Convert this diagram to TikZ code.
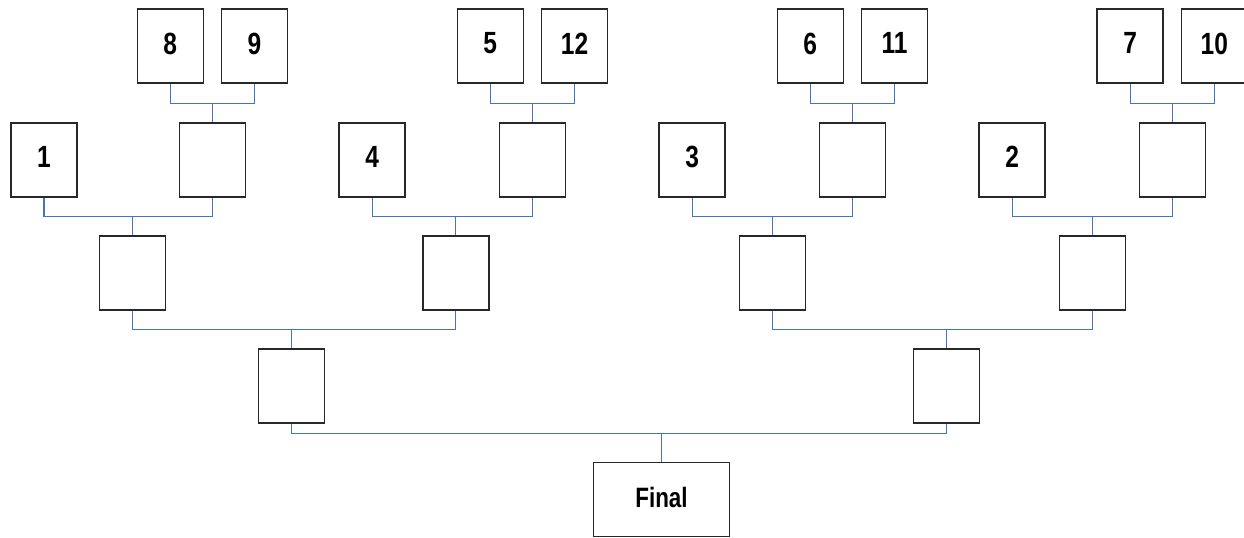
\documentclass[tikz,border=0pt]{standalone}
\usepackage{fontspec}
\newfontfamily\bracketfont{Liberation Sans}[FakeStretch=0.8]
\definecolor{linkblue}{RGB}{68,114,196}
\definecolor{boxgray}{RGB}{40,40,40}
\tikzset{every picture/.style={line width=0.75pt}}
\tikzset{
  slot/.style={draw=boxgray, line width=1.2pt, fill=white, minimum width=49.5pt, minimum height=55.5pt,
    inner sep=0pt, text depth=4.5pt, font=\bracketfont\bfseries\fontsize{23}{23}\selectfont},
  finalslot/.style={slot, minimum width=102pt, text depth=3pt, font=\bracketfont\bfseries\fontsize{21}{21}\selectfont},
  link/.style={draw=linkblue, line width=0.9pt}
}

\begin{document}
\begin{tikzpicture}[x=0.75pt,y=0.75pt,yscale=-1,xscale=1]
\useasboundingbox (0,0) rectangle (1244,538);

%Top row (seeds 5 to 12)
\node [slot] (s8) at (170.3,46.3) {8};
\node [slot] (s9) at (254.5,46.3) {9};
\node [slot] (s5) at (490.3,46.3) {5};
\node [slot] (s12) at (574.5,46.3) {12};
\node [slot] (s6) at (810.3,46.3) {6};
\node [slot] (s11) at (894.5,46.3) {11};
\node [slot] (s7) at (1130.2,46.3) {7};
\node [slot] (s10) at (1214.3,46.3) {10};

%Second row
\node [slot] (s1) at (43.9,159.8) {1};
\node [slot] (w89) at (212.5,159.8) {};
\node [slot] (s4) at (372.2,159.8) {4};
\node [slot] (w512) at (532.5,159.8) {};
\node [slot] (s3) at (692.2,159.8) {3};
\node [slot] (w611) at (852.5,159.8) {};
\node [slot] (s2) at (1012.2,159.8) {2};
\node [slot] (w710) at (1172.5,159.8) {};

%Quarter finals
\node [slot] (q1) at (132.5,273.2) {};
\node [slot] (q4) at (455.7,273.2) {};
\node [slot] (q3) at (772.5,273.2) {};
\node [slot] (q2) at (1092.5,273.2) {};

%Semi finals
\node [slot] (sf1) at (291.5,386.2) {};
\node [slot] (sf2) at (946.5,386.2) {};

%Final
\node [finalslot] (final) at (661.5,499.5) {Final};

%Links, top row
\draw [link] (s8.south) |- (w89.north |- 0,103.3) -| (s9.south);
\draw [link] (w89.north) -- (w89.north |- 0,103.3);
\draw [link] (s5.south) |- (w512.north |- 0,103.3) -| (s12.south);
\draw [link] (w512.north) -- (w512.north |- 0,103.3);
\draw [link] (s6.south) |- (w611.north |- 0,103.3) -| (s11.south);
\draw [link] (w611.north) -- (w611.north |- 0,103.3);
\draw [link] (s7.south) |- (w710.north |- 0,103.3) -| (s10.south);
\draw [link] (w710.north) -- (w710.north |- 0,103.3);

%Links, second row
\draw [link] (s1.south) |- (q1.north |- 0,216.7) -| (w89.south);
\draw [link] (q1.north) -- (q1.north |- 0,216.7);
\draw [link] (s4.south) |- (q4.north |- 0,216.7) -| (w512.south);
\draw [link] (q4.north) -- (q4.north |- 0,216.7);
\draw [link] (s3.south) |- (q3.north |- 0,216.7) -| (w611.south);
\draw [link] (q3.north) -- (q3.north |- 0,216.7);
\draw [link] (s2.south) |- (q2.north |- 0,216.7) -| (w710.south);
\draw [link] (q2.north) -- (q2.north |- 0,216.7);

%Links, quarter finals
\draw [link] (q1.south) |- (sf1.north |- 0,329.7) -| (q4.south);
\draw [link] (sf1.north) -- (sf1.north |- 0,329.7);
\draw [link] (q3.south) |- (sf2.north |- 0,329.7) -| (q2.south);
\draw [link] (sf2.north) -- (sf2.north |- 0,329.7);

%Links, semi finals
\draw [link] (sf1.south) |- (final.north |- 0,433.7) -| (sf2.south);
\draw [link] (final.north) -- (final.north |- 0,433.7);

\end{tikzpicture}
\end{document}
